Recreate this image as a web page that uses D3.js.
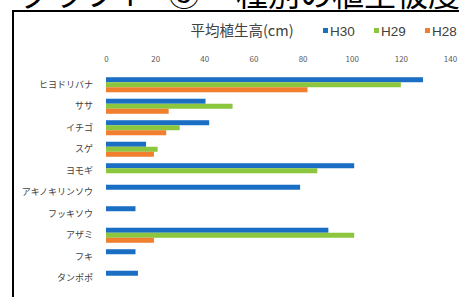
<!DOCTYPE html>
<meta charset="utf-8">
<style>
  body { margin: 0; background: #fff; }
  * { font-family: 'Noto Sans CJK JP', 'Noto Sans', sans-serif; }
</style>
<svg width="459" height="297"></svg>
<script src="https://d3js.org/d3.v7.min.js"></script>
<script>
var categories = ["ヒヨドリバナ", "ササ", "イチゴ", "スゲ", "ヨモギ", "アキノキリンソウ", "フッキソウ", "アザミ", "フキ", "タンポポ"];
var seriesNames = ["H30", "H29", "H28"];
var h30 = [129, 40.5, 42, 16.3, 101, 79, 12, 90.5, 12, 13];
var h29 = [120, 51.5, 30, 21, 86, null, null, 101, null, null];
var h28 = [82, 25.5, 24.5, 19.5, null, null, null, 19.5, null, null];
var colors = ["#1a6fc4", "#8cc63e", "#f07f2f"];
var ticks = [0, 20, 40, 60, 80, 100, 120, 140];

var svg = d3.select("svg");

// heading, cut off at the top of the picture
var heading = [["グラフ", 20], ["4", 118], ["③", 168], ["種別の植生被度", 236]];
svg.append("g")
  .selectAll("text")
  .data(heading)
  .join("text")
    .attr("x", function(d) { return d[1]; })
    .attr("y", 6)
    .style("font-size", "32px")
    .attr("fill", "#000")
    .text(function(d) { return d[0]; });

// frame
svg.append("path")
    .attr("d", "M13,300V11H470")
    .attr("fill", "none")
    .attr("stroke", "#000")
    .attr("stroke-width", 2);

var x = d3.scaleLinear().domain([0, 140]).range([106, 450]);
var y = d3.scaleBand().domain(categories).range([74, 289]).paddingInner(0.3).paddingOuter(0.15);
var yi = d3.scaleBand().domain(seriesNames).range([0, y.bandwidth()]);

var series = [h30, h29, h28];

svg.append("g")
  .selectAll("g")
  .data(series)
  .join("g")
    .attr("fill", function(d, i) { return colors[i]; })
  .selectAll("rect")
  .data(function(d, i) {
    return categories.map(function(c, j) { return {cat: c, v: d[j], s: seriesNames[i]}; })
      .filter(function(e) { return e.v != null; });
  })
  .join("rect")
    .attr("x", x(0))
    .attr("y", function(d) { return y(d.cat) + yi(d.s); })
    .attr("width", function(d) { return x(d.v) - x(0); })
    .attr("height", yi.bandwidth());

// top axis
var ax = svg.append("g")
    .attr("transform", "translate(0,62)")
    .call(d3.axisTop(x).tickValues(ticks).tickSize(0).tickPadding(0));
ax.select(".domain").remove();
ax.selectAll("text").attr("fill", "#595959").style("font-size", "8px");

// category axis
var ay = svg.append("g")
    .attr("transform", "translate(93,0)")
    .call(d3.axisLeft(y).tickSize(0).tickPadding(0));
ay.select(".domain").remove();
ay.selectAll("text").attr("fill", "#404040").style("font-size", "9px");

// title
svg.append("text")
    .attr("x", 242)
    .attr("y", 36)
    .attr("text-anchor", "middle")
    .attr("fill", "#404040")
    .style("font-size", "14.5px")
    .text("平均植生高(cm)");

// legend
var lg = svg.append("g")
  .selectAll("g")
  .data(seriesNames)
  .join("g")
    .attr("transform", function(d, i) { return "translate(" + (323 + i * 51) + ",36)"; });
lg.append("rect")
    .attr("y", -8)
    .attr("width", 5)
    .attr("height", 5)
    .attr("fill", function(d, i) { return colors[i]; });
lg.append("text")
    .attr("x", 7)
    .attr("y", 0)
    .attr("fill", "#404040")
    .style("font-size", "13.5px")
    .style("font-family", "'Liberation Sans', Arial, sans-serif")
    .text(function(d) { return d; });
</script>
